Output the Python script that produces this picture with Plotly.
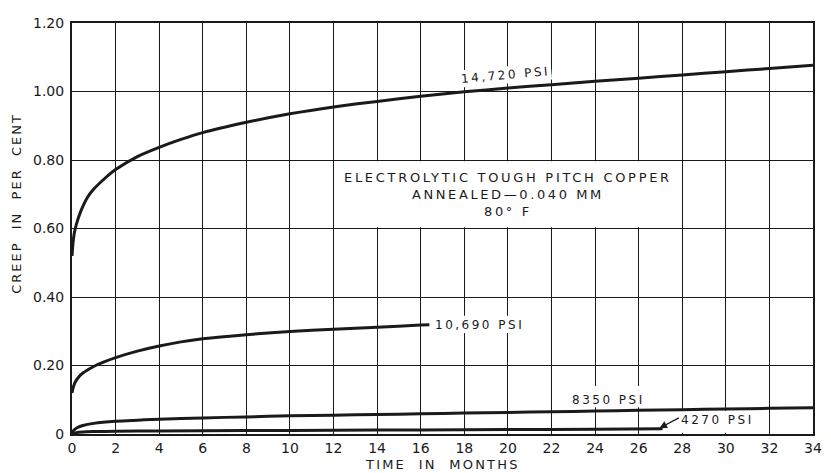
import plotly.graph_objects as go

# ---- data ----
x_14720 = [0, 0.05, 0.1, 0.2, 0.4, 0.7, 1, 1.5, 2, 3, 4, 5, 6, 8, 10, 12, 14, 16, 18, 20, 22, 24, 26, 28, 30, 32, 34]
y_14720 = [0.52, 0.56, 0.585, 0.612, 0.65, 0.69, 0.715, 0.746, 0.772, 0.81, 0.837, 0.86, 0.88, 0.91, 0.935, 0.955,
           0.971, 0.986, 0.999, 1.01, 1.02, 1.03, 1.039, 1.048, 1.058, 1.067, 1.077]

x_10690 = [0, 0.05, 0.15, 0.3, 0.5, 1, 1.5, 2, 3, 4, 5, 6, 8, 10, 12, 14, 16, 16.4]
y_10690 = [0.12, 0.135, 0.152, 0.166, 0.178, 0.197, 0.211, 0.223, 0.242, 0.257, 0.269, 0.278, 0.29, 0.299, 0.306,
           0.312, 0.318, 0.319]

x_8350 = [0, 0.1, 0.25, 0.5, 1, 2, 4, 6, 8, 10, 12, 14, 16, 18, 20, 22, 24, 26, 28, 30, 32, 34]
y_8350 = [0.004, 0.012, 0.019, 0.025, 0.031, 0.037, 0.043, 0.047, 0.050, 0.053, 0.055, 0.057, 0.059, 0.061, 0.063,
          0.065, 0.067, 0.069, 0.071, 0.073, 0.075, 0.077]

x_4270 = [0, 0.2, 0.5, 1, 2, 4, 8, 12, 16, 20, 24, 27.1]
y_4270 = [0.0, 0.004, 0.006, 0.007, 0.008, 0.009, 0.010, 0.011, 0.012, 0.013, 0.014, 0.015]

x_ticks = list(range(0, 35, 2))
y_ticks = [0, 0.2, 0.4, 0.6, 0.8, 1.0, 1.2]
y_ticktext = ["0", "0.20", "0.40", "0.60", "0.80", "1.00", "1.20"]

FONT = "DejaVu Sans"
INK = "#1a1a1a"


def spaced(t, px):
    return f'<span style="letter-spacing:{px}px">{t}</span>'


fig = go.Figure()
for xs, ys in [(x_14720, y_14720), (x_10690, y_10690), (x_8350, y_8350), (x_4270, y_4270)]:
    fig.add_trace(go.Scatter(x=xs, y=ys, mode="lines", line=dict(color=INK, width=3, shape="spline", smoothing=0.6),
                             showlegend=False, hoverinfo="skip"))

fig.update_xaxes(range=[0, 34], tickvals=x_ticks, showgrid=True, gridcolor=INK, gridwidth=1.2,
                 showline=True, linecolor=INK, linewidth=2, mirror=True, zeroline=False,
                 ticks="", tickfont=dict(family=FONT, size=14, color=INK), ticklabelstandoff=0)
fig.update_yaxes(range=[0, 1.2], tickvals=y_ticks, ticktext=y_ticktext, showgrid=True, gridcolor=INK, gridwidth=1.2,
                 showline=True, linecolor=INK, linewidth=2, mirror=True, zeroline=False,
                 ticks="", tickfont=dict(family=FONT, size=14, color=INK), ticklabelstandoff=3)

# white label boxes that interrupt the grid (below the curves)
for x0, x1, y0, y1 in [(12.06, 27.94, 0.604, 0.796), (22.4, 26.6, 0.078, 0.14), (27.4, 31.4, 0.004, 0.068),
                       (16.45, 20.8, 0.295, 0.345)]:
    fig.add_shape(type="rect", xref="x", yref="y", x0=x0, x1=x1, y0=y0, y1=y1,
                  fillcolor="white", line=dict(width=0), layer="between")

ann_font = dict(family=FONT, size=12, color=INK)
fig.add_annotation(x=20.0, y=0.70, xref="x", yref="y", showarrow=False,
                   text=spaced("ELECTROLYTIC TOUGH PITCH COPPER", 2.7) + "<br>" + spaced("ANNEALED\u20140.040 MM", 2.6)
                   + "<br>" + spaced("80\u00b0 F", 2.6),
                   font=dict(family=FONT, size=13, color=INK), align="center")
fig.add_annotation(x=19.9, y=1.048, xref="x", yref="y", showarrow=False, textangle=-5,
                   text=spaced("14,720 PSI", 2.5), font=ann_font, bgcolor="white", borderpad=1)
fig.add_annotation(x=16.55, y=0.318, xref="x", yref="y", showarrow=False, xanchor="left",
                   text=spaced("10,690 PSI", 2.5), font=ann_font)
fig.add_annotation(x=24.6, y=0.10, xref="x", yref="y", showarrow=False,
                   text=spaced("8350 PSI", 2.5), font=ann_font)
fig.add_annotation(x=29.6, y=0.042, xref="x", yref="y", showarrow=False,
                   text=spaced("4270 PSI", 2.5), font=ann_font)
fig.add_annotation(x=26.95, y=0.017, xref="x", yref="y", ax=21, ay=-11, text="", showarrow=True,
                   arrowhead=2, arrowsize=1.1, arrowwidth=1.4, arrowcolor=INK)

# axis titles
fig.add_annotation(x=0.5, y=-0.074, xref="paper", yref="paper", showarrow=False, xanchor="center", yanchor="middle",
                   text=spaced("TIME  IN  MONTHS", 2.2), font=dict(family=FONT, size=13, color=INK))
fig.add_annotation(x=-0.0742, y=0.56, xref="paper", yref="paper", showarrow=False, textangle=-90,
                   xanchor="center", yanchor="middle",
                   text=spaced("CREEP  IN  PER  CENT", 2.0), font=dict(family=FONT, size=13, color=INK))

# page body has an 8px margin: compensate so the plot area lands where the reference has it
fig.update_layout(width=823, height=465, margin=dict(l=64, r=18, t=7, b=39),
                  plot_bgcolor="white", paper_bgcolor="white", showlegend=False)

fig.write_html("out.html")
